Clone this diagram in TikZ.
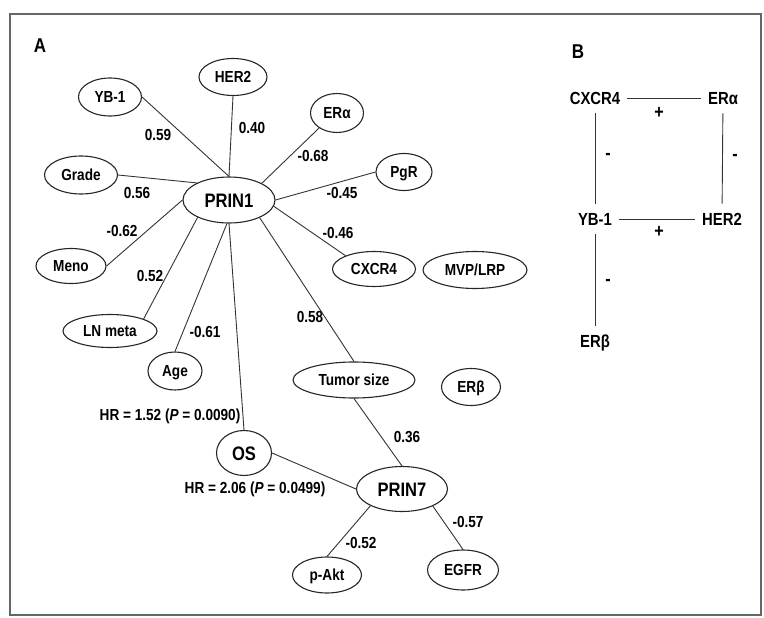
\documentclass[tikz,border=0pt]{standalone}
\usepackage{fontspec}
\setmainfont{Liberation Sans}[FakeStretch=0.85]
\usetikzlibrary{shapes.geometric}

\begin{document}
\begin{tikzpicture}
  [x=1pt,y=-1pt,every node/.style={text=black, font=\bfseries\fontsize{16}{18}\selectfont},
   var/.style={shape=ellipse, draw=black!85, line width=1.1pt, inner sep=0pt,
     text height=11.5pt, text depth=0pt, minimum height=37pt},
   prin/.style={var, minimum width=92pt, minimum height=46pt,
     font=\bfseries\fontsize{19.5}{22}\selectfont, text height=14pt},
   wt/.style={inner sep=0pt, text height=11.5pt, text depth=0pt},
   sign/.style={inner sep=0pt, font=\bfseries\fontsize{19}{20}\selectfont},
   gene/.style={inner xsep=7pt, inner ysep=9pt, text height=12.5pt, text depth=0pt,
     font=\bfseries\fontsize{17.5}{20}\selectfont},
   panel/.style={font=\bfseries\fontsize{20}{22}\selectfont}]
  \useasboundingbox (0,0) rectangle (764,618);
  \draw[black!60, line width=1.2pt] (10,14) rectangle (761,615);
  % A
  \node[panel] (A) at (40,46) {A};
  \node[var, minimum width=68pt] (HER2) at (233,77) {HER2};
  \node[var, minimum width=63pt, minimum height=38pt] (YB1) at (110,97) {YB-1};
  \node[var, minimum width=53pt, minimum height=39pt] (ERa) at (337,113) {ERα};
  \node[var, minimum width=73pt, minimum height=38pt] (Grade) at (81,175) {Grade};
  \node[prin] (PRIN1) at (229,200) {PRIN1};
  \node[var, minimum width=56pt] (PgR) at (404,172) {PgR};
  \node[var, minimum width=70pt, minimum height=35pt] (Meno) at (71,266) {Meno};
  \node[var, minimum width=83pt, minimum height=35pt] (CXCR4) at (374,269) {CXCR4};
  \node[var, minimum width=104pt] (MVP) at (475,270) {MVP/LRP};
  \node[var, minimum width=94pt, minimum height=33pt] (LN) at (110,331) {LN meta};
  \node[var, minimum width=54pt, minimum height=38pt] (Age) at (175,371) {Age};
  \node[var, minimum width=122pt, minimum height=36pt] (Tumor) at (354,380) {Tumor size};
  \node[var, minimum width=59pt] (ERb) at (471,387) {ERβ};
  \node[prin, minimum width=55pt, minimum height=45pt] (OS) at (244,453) {OS};
  \node[prin, minimum width=91pt, minimum height=45pt] (PRIN7) at (402,489) {PRIN7};
  \node[var, minimum width=69pt, minimum height=36pt] (pAkt) at (327,575) {p-Akt};
  \node[var, minimum width=71pt, minimum height=40pt] (EGFR) at (463,570) {EGFR};
  % loadings
  \node[wt] (w-yb1) at (158,135) {0.59};
  \node[wt] (w-her2) at (252,128) {0.40};
  \node[wt] (w-era) at (313,156) {-0.68};
  \node[wt] (w-grade) at (137,193) {0.56};
  \node[wt] (w-pgr) at (342,193) {-0.45};
  \node[wt] (w-meno) at (122,231) {-0.62};
  \node[wt] (w-cxcr4) at (338,233) {-0.46};
  \node[wt] (w-ln) at (150,276) {0.52};
  \node[wt] (w-tumor) at (310,317) {0.58};
  \node[wt] (w-age) at (205,332) {-0.61};
  \node[wt] (w-prin7) at (407,437) {0.36};
  \node[wt] (w-pakt) at (361,543) {-0.52};
  \node[wt] (w-egfr) at (468,522) {-0.57};
  \node[wt] (hr1) at (170,415) {HR = 1.52 (\textit{P} = 0.0090)};
  \node[wt] (hr7) at (255,488) {HR = 2.06 (\textit{P} = 0.0499)};
  \begin{scope}[line width=.9pt, black!80]
  \foreach \from/\to in {HER2.south/PRIN1.north, YB1.east/PRIN1.north, ERa.-140/PRIN1.27,
      Grade.east/PRIN1.152, PgR.west/PRIN1.east, Meno.east/PRIN1.west, CXCR4.155/PRIN1.-8,
      LN.north east/PRIN1.-151, Age.north/PRIN1.-95, OS.north/PRIN1.south, Tumor.north/PRIN1.-30,
      Tumor.south/PRIN7.north, OS.east/PRIN7.west, pAkt.north/PRIN7.-152, EGFR.north/PRIN7.-29}
     \draw (\from) -- (\to);
  \end{scope}
  % B
  \node[panel] (B) at (578,52) {B};
  \node[gene] (bCXCR4) at (595,98) {CXCR4};
  \node[gene] (bERa) at (723,98) {ERα};
  \node[gene] (bYB1) at (595,219) {YB-1};
  \node[gene] (bHER2) at (722,219) {HER2};
  \node[gene] (bERb) at (595,341) {ERβ};
  \node[sign] (s-top) at (659,113) {+};
  \node[sign] (s-bot) at (659,232) {+};
  \node[sign] (s-left) at (608,156) {-};
  \node[sign] (s-right) at (735,157) {-};
  \node[sign] (s-erb) at (608,282) {-};
  \begin{scope}[line width=.9pt, black!80]
  \foreach \from/\to in {bCXCR4/bERa, bYB1/bHER2, bCXCR4/bYB1, bERa/bHER2, bYB1/bERb}
     \draw (\from) -- (\to);
  \end{scope}
\end{tikzpicture}
\end{document}
